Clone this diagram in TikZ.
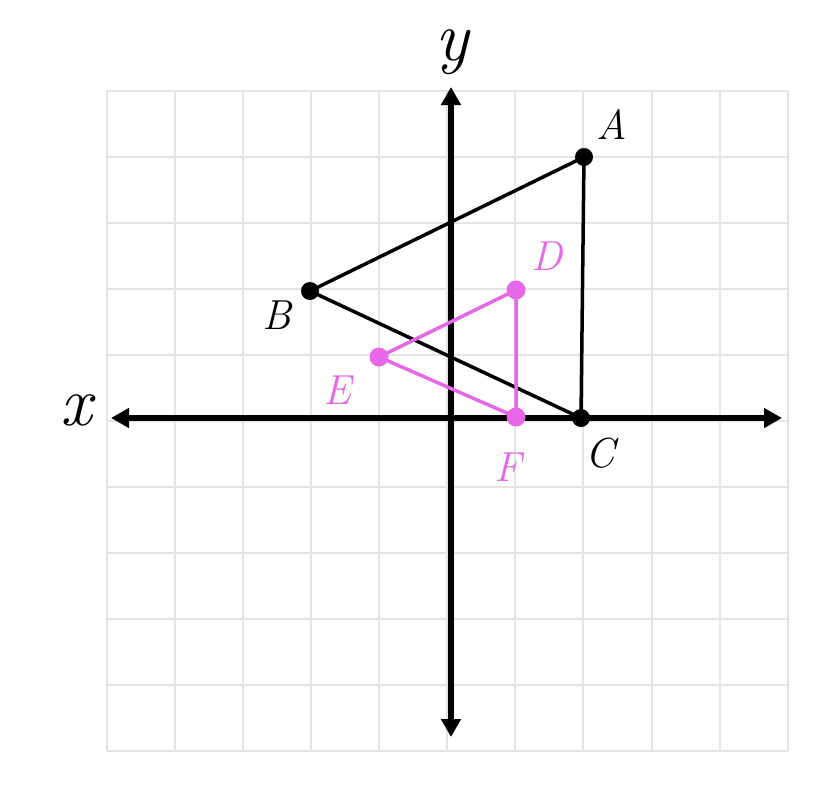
\documentclass[tikz,border=0pt]{standalone}
\usepackage{fontspec}
\usetikzlibrary{arrows.meta}
\definecolor{gridgray}{RGB}{228,228,228}
\definecolor{pinkv}{RGB}{232,102,232}
\begin{document}
\begin{tikzpicture}[x=1pt,y=-1pt,
  gridline/.style={draw=gridgray,line width=2pt},
  axis/.style={line width=6pt,{Triangle[length=18pt,width=19pt]}-{Triangle[length=18pt,width=19pt]}},
  blackdot/.style={circle,fill=black,inner sep=0pt,minimum size=18pt},
  pinkdot/.style={circle,fill=pinkv,inner sep=0pt,minimum size=19pt},
  blackedge/.style={draw=black,line width=3.5pt},
  pinkedge/.style={draw=pinkv,line width=3.5pt},
  lab/.style={inner sep=0pt,font=\fontsize{42}{46}\selectfont\itshape},
  biglab/.style={inner sep=0pt,font=\fontsize{70}{76}\selectfont\itshape}]
\useasboundingbox (0,0) rectangle (824,784);
\fill[white] (0,0) rectangle (824,784);
% grid
\foreach \i in {0,...,10}{
  \draw[gridline] ({106.7+68.1*\i},90.7) -- ({106.7+68.1*\i},751);
  \draw[gridline] (106.7,{90.7+66.03*\i}) -- (787.7,{90.7+66.03*\i});
}
% axes
\coordinate (xl) at (111,418);
\coordinate (xr) at (782,418);
\coordinate (yt) at (451,87);
\coordinate (yb) at (451,737);
\draw[axis] (xl) -- (xr);
\draw[axis] (yt) -- (yb);
% points
\node[blackdot] (A) at (584,157) {};
\node[blackdot] (B) at (310,291) {};
\node[blackdot] (C) at (581,418) {};
\node[pinkdot] (D) at (516,290) {};
\node[pinkdot] (E) at (379,357) {};
\node[pinkdot] (F) at (516,417) {};
% edges
\draw[blackedge] (A.center) -- (B.center) -- (C.center) -- (A.center);
\draw[pinkedge] (D.center) -- (E.center) -- (F.center) -- (D.center);
% labels
\node[lab] (lA) at (612,125) {A};
\node[lab] (lB) at (277,315) {B};
\node[lab] (lC) at (600,453) {C};
\node[lab,text=pinkv] (lD) at (547,256) {D};
\node[lab,text=pinkv] (lE) at (337,390) {E};
\node[lab,text=pinkv] (lF) at (508,467) {F};
\node[biglab] (lx) at (76,410) {x};
\node[biglab] (ly) at (452,52) {y};
\end{tikzpicture}
\end{document}
